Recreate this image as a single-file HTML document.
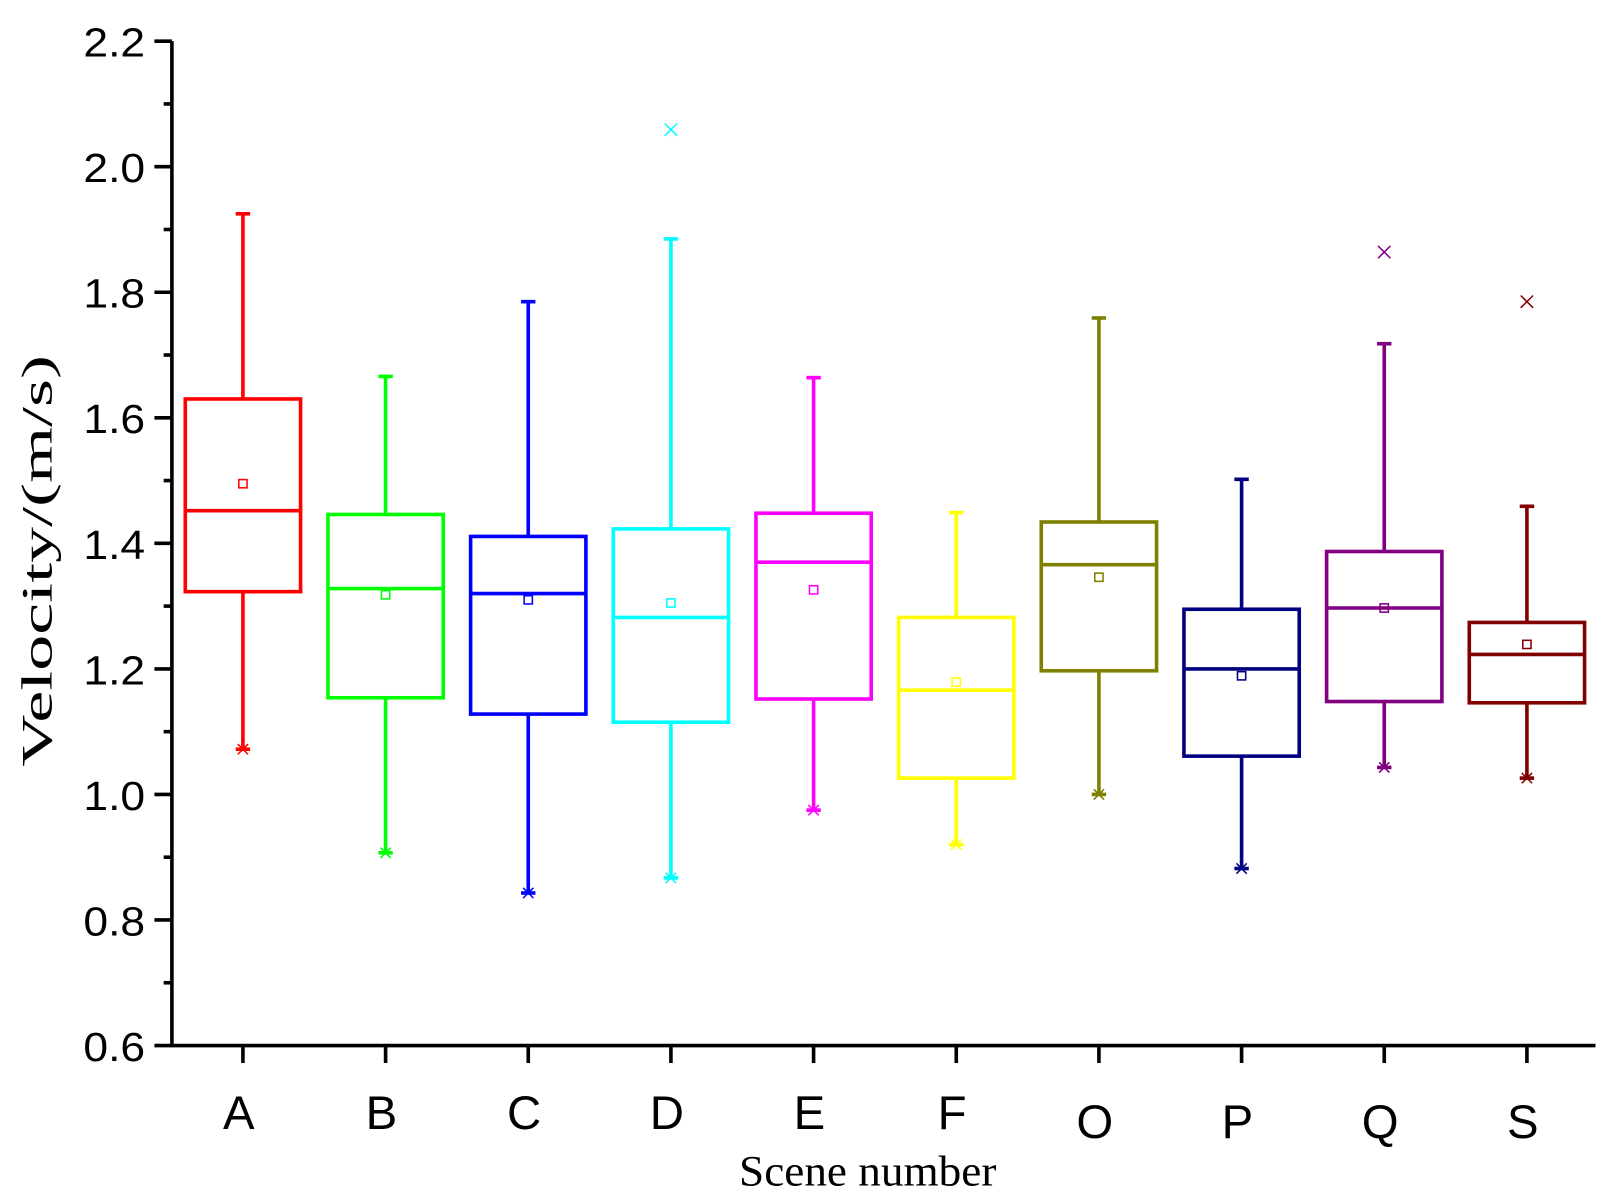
<!DOCTYPE html>
<html><head><meta charset="utf-8"><style>
html,body{margin:0;padding:0;background:#fff;}
svg{display:block;}
</style></head><body>
<svg id="chart" width="1614" height="1204" viewBox="0 0 1568 1170" preserveAspectRatio="none" xmlns="http://www.w3.org/2000/svg">
<g id="axes"></g>
<g id="marks"></g>
<text x="843" y="1152" text-anchor="middle" font-family="Liberation Serif, serif" font-size="42" textLength="250" lengthAdjust="spacingAndGlyphs">Scene number</text>
<text transform="translate(50,545) rotate(-90)" text-anchor="middle" font-family="Liberation Serif, serif" font-size="42" textLength="400" lengthAdjust="spacingAndGlyphs">Velocity/(m/s)</text>
</svg>
<script>
const categories=["A","B","C","D","E","F","O","P","Q","S"];
const colors=["#ff0000","#00ff00","#0000ff","#00ffff","#ff00ff","#ffff00","#808000","#000080","#800080","#800000"];
const maxV=[1.925,1.666,1.785,1.885,1.664,1.449,1.759,1.502,1.718,1.459];
const q3V=[1.630,1.446,1.411,1.423,1.448,1.282,1.434,1.295,1.387,1.274];
const medV=[1.452,1.328,1.320,1.282,1.370,1.166,1.366,1.200,1.297,1.223];
const q1V=[1.323,1.154,1.128,1.115,1.152,1.026,1.197,1.061,1.148,1.146];
const minV=[1.072,0.907,0.843,0.867,0.975,0.920,1.000,0.882,1.043,1.026];
const meanV=[1.495,1.318,1.310,1.305,1.326,1.179,1.346,1.189,1.297,1.239];
const outliers=[[],[],[],[2.059],[],[],[],[],[1.864],[1.785]];
const yTicks=[0.6,0.8,1.0,1.2,1.4,1.6,1.8,2.0,2.2];
const yTickLabels=["0.6","0.8","1.0","1.2","1.4","1.6","1.8","2.0","2.2"];

const NS="http://www.w3.org/2000/svg";
const X0=167,X1=1550,Y0=1016,Y1=40;
function y(v){return Y0-(v-0.6)/1.6*(Y0-Y1);}
function x(i){return 236+i*138.6;}
function mk(p,tag,at){const e=document.createElementNS(NS,tag);for(const k in at)e.setAttribute(k,at[k]);p.appendChild(e);return e;}
const ax=document.getElementById('axes'),mg=document.getElementById('marks');
let e;
e=mk(ax,'line',{x1:X0,y1:Y1,x2:X0,y2:Y0+1.5,stroke:'#000','stroke-width':3.5});


e=mk(ax,'line',{x1:X0-1.5,y1:Y0,x2:X1,y2:Y0,stroke:'#000','stroke-width':3.5});


yTicks.forEach((v,i)=>{
  mk(ax,'line',{x1:X0-17,y1:y(v),x2:X0,y2:y(v),stroke:'#000','stroke-width':3.5});
  if(i<yTicks.length-1){mk(ax,'line',{x1:X0-8,y1:y(v+0.1),x2:X0,y2:y(v+0.1),stroke:'#000','stroke-width':3.5});}
  const t=mk(ax,'text',{x:X0-26,y:y(v)+15,'text-anchor':'end','font-family':'Liberation Sans, sans-serif','font-size':40,textLength:60,lengthAdjust:'spacingAndGlyphs'});
  t.textContent=yTickLabels[i];
  
  
});
categories.forEach((c,i)=>{
  const cx=x(i);
  mk(ax,'line',{x1:cx,y1:Y0,x2:cx,y2:Y0+17,stroke:'#000','stroke-width':3.5});
  const low="OPQS".includes(c);
  const t=mk(ax,'text',{x:cx-4,y:low?1106:1097,'text-anchor':'middle','font-family':'Liberation Sans, sans-serif','font-size':46});
  t.textContent=c;
  
  
  const col=colors[i],g=mk(mg,'g',{stroke:col,fill:'none','stroke-width':3.5});
  
  
  const hw=56;
  mk(g,'line',{x1:cx,y1:y(maxV[i]),x2:cx,y2:y(q3V[i])});
  mk(g,'line',{x1:cx,y1:y(q1V[i]),x2:cx,y2:y(minV[i])});
  mk(g,'line',{x1:cx-7,y1:y(maxV[i]),x2:cx+7,y2:y(maxV[i])});
  mk(g,'line',{x1:cx-7,y1:y(minV[i]),x2:cx+7,y2:y(minV[i])});
  const my=y(minV[i]);
  mk(g,'path',{d:`M${cx-5} ${my-5}L${cx+5} ${my+5}M${cx-5} ${my+5}L${cx+5} ${my-5}`,'stroke-width':1.5});
  mk(g,'rect',{x:cx-hw,y:y(q3V[i]),width:2*hw,height:y(q1V[i])-y(q3V[i])});
  mk(g,'line',{x1:cx-hw,y1:y(medV[i]),x2:cx+hw,y2:y(medV[i])});
  mk(g,'rect',{x:cx-4,y:y(meanV[i])-4,width:8,height:8,'stroke-width':1.5});
  outliers[i].forEach(o=>{
    const oy=y(o);
    const p=mk(g,'path',{d:`M${cx-6} ${oy-6}L${cx+6} ${oy+6}M${cx-6} ${oy+6}L${cx+6} ${oy-6}`,'stroke-width':1.5});
    
    
  });
});
</script>
</body></html>
